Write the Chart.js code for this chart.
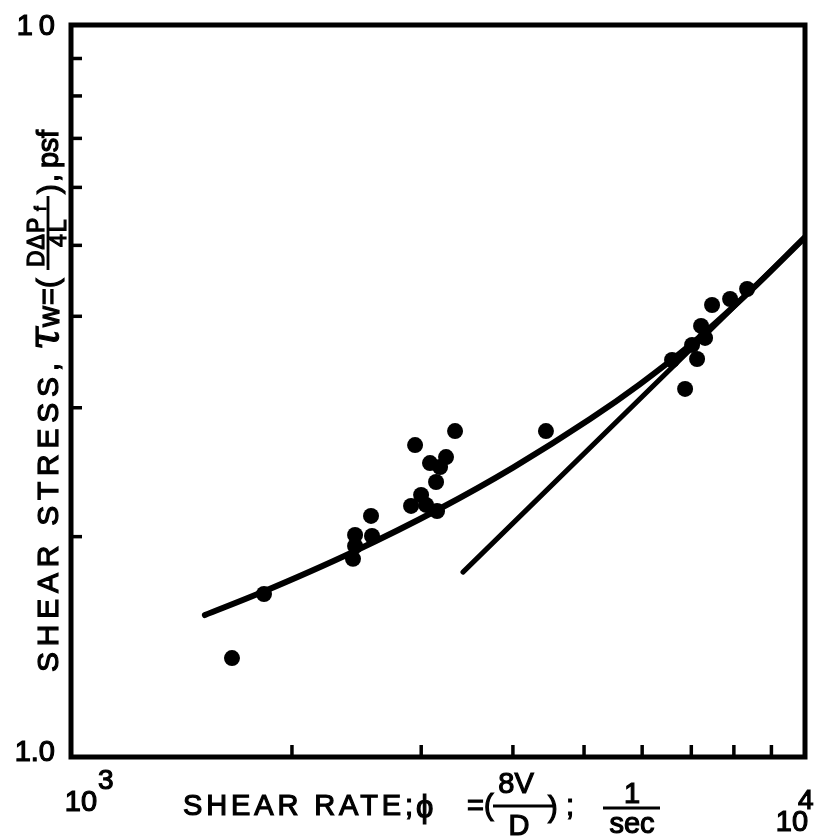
<!DOCTYPE html>
<html>
<head>
<meta charset="utf-8">
<script src="https://cdn.jsdelivr.net/npm/chart.js@4"></script>
<style>
html,body{margin:0;padding:0;background:#fff;}
#wrap{width:822px;height:840px;}
</style>
</head>
<body>
<div id="wrap"><canvas id="c" width="822" height="840"></canvas></div>
<script>
// ---- data ----
const shearRate   = [1657,1832,2422,2438,2438,2571,2563,2906,2999,3046,3153,3143,2943,3084,3183,3243,3336,4437,6590,6865,7128,7017,7309,7218,7471,7906,8339];
const shearStress = [1.365,1.670,1.865,1.942,2.011,2.004,2.135,2.203,2.280,2.210,2.168,2.375,2.668,2.521,2.490,2.569,2.788,2.788,3.486,3.183,3.497,3.655,3.737,3.881,4.145,4.224,4.359];

const curveRate   = [1522,1809,2422,3183,4001,5095,5960,6973,8418,10000];
const curveStress = [1.563,1.675,1.906,2.185,2.485,2.895,3.232,3.654,4.330,5.130];

const lineRate    = [3420,10000];
const lineStress  = [1.789,5.13];

const xMinorTicks = [2000,3000,4000,5000,6000,7000,8000,9000];
const yMinorTicks = [2,3,4,5,6,7,8,9];
const xTickLabels = [{value:1000, base:'10', exp:'3'},{value:10000, base:'10', exp:'4'}];
const yTickLabels = [{value:1, text:'1.0'},{value:10, text:'10'}];

const toXY = (xs, ys) => xs.map((x,i)=>({x:x, y:ys[i]}));

const FONT = '"Liberation Sans","DejaVu Sans",sans-serif';

function txt(ctx, s, x, y){
  ctx.fillText(s, x, y);
  ctx.strokeText(s, x, y);
}
function spread(ctx, text, x0, x1, base){
  ctx.letterSpacing = '0px';
  const w = ctx.measureText(text).width;
  const n = [...text].length;
  const sp = n>1 ? (x1-x0-w)/(n-1) : 0;
  ctx.letterSpacing = sp + 'px';
  ctx.textAlign = 'left';
  txt(ctx, text, x0, base);
  ctx.letterSpacing = '0px';
}

const framePlugin = {
  id:'frame',
  afterDatasetsDraw(chart){
    const ctx = chart.ctx, a = chart.chartArea;
    const xs = chart.scales.x, ys = chart.scales.y;
    ctx.save();
    ctx.strokeStyle = '#000';
    ctx.fillStyle = '#000';
    ctx.lineWidth = 5;
    ctx.lineJoin = 'miter';
    ctx.strokeRect(a.left, a.top, a.right-a.left, a.bottom-a.top);
    // inward minor ticks
    ctx.lineWidth = 3.5;
    xMinorTicks.forEach(v=>{
      const px = xs.getPixelForValue(v);
      ctx.beginPath(); ctx.moveTo(px, a.bottom); ctx.lineTo(px, a.bottom-12); ctx.stroke();
    });
    yMinorTicks.forEach(v=>{
      const py = ys.getPixelForValue(v);
      ctx.beginPath(); ctx.moveTo(a.left, py); ctx.lineTo(a.left+11, py); ctx.stroke();
    });
    // tick labels
    ctx.lineWidth = 1.2;
    ctx.textBaseline = 'middle';
    ctx.textAlign = 'right';
    ctx.font = '29px ' + FONT;
    yTickLabels.forEach(t=>{
      const py = ys.getPixelForValue(t.value);
      ctx.letterSpacing = t.text==='10' ? '6px' : '0px';
      txt(ctx, t.text, a.left-16 + (t.text==='10'?6:0), py + (t.value===10?2:-4));
    });
    ctx.letterSpacing = '0px';
    ctx.textBaseline = 'alphabetic';
    xTickLabels.forEach(t=>{
      const px = xs.getPixelForValue(t.value);
      ctx.font = '29px ' + FONT;
      ctx.textAlign = 'center';
      const base = t.value===1000 ? 811 : 831;
      txt(ctx, t.base, px + (t.value===1000 ? 10 : -13), base);
      ctx.font = '28px ' + FONT;
      ctx.textAlign = 'left';
      txt(ctx, t.exp, px + (t.value===1000 ? 27 : -7), base-22);
    });
    ctx.restore();
  }
};

const titlePlugin = {
  id:'titles',
  afterDraw(chart){
    const ctx = chart.ctx;
    ctx.save();
    ctx.fillStyle = '#000';
    ctx.strokeStyle = '#000';
    ctx.lineWidth = 1.2;
    ctx.textBaseline = 'alphabetic';
    // ---- x title ----
    ctx.font = '29px ' + FONT;
    spread(ctx, 'SHEAR RATE;', 183, 413, 815);
    ctx.textAlign = 'left';
    ctx.font = '31px ' + FONT;
    txt(ctx, 'ϕ', 416, 817);
    ctx.font = '29px ' + FONT;
    txt(ctx, '=(', 467, 815);
    ctx.textAlign = 'center';
    txt(ctx, '8V', 516, 793);
    txt(ctx, 'D', 519, 835);
    ctx.lineWidth = 2.8;
    ctx.beginPath(); ctx.moveTo(493, 806); ctx.lineTo(553, 806); ctx.stroke();
    ctx.lineWidth = 1.2;
    ctx.textAlign = 'left';
    txt(ctx, ')', 548, 817);
    txt(ctx, ';', 566, 815);
    ctx.textAlign = 'center';
    txt(ctx, '1', 632, 803);
    txt(ctx, 'sec', 632, 833);
    ctx.lineWidth = 2.8;
    ctx.beginPath(); ctx.moveTo(603, 808); ctx.lineTo(660, 808); ctx.stroke();
    ctx.lineWidth = 1.2;

    // ---- y title (rotated) ----
    ctx.rotate(-Math.PI/2);
    // rotated coords: u = -screenY, v = screenX
    ctx.font = '30px ' + FONT;
    spread(ctx, 'SHEAR STRESS,', -672, -363, 58);
    ctx.textAlign = 'left';
    ctx.font = 'italic 42px "DejaVu Serif",serif';
    txt(ctx, 'τ', -350, 58);
    ctx.font = '29px ' + FONT;
    txt(ctx, 'w', -327, 59);
    txt(ctx, '=(', -305, 58);
    ctx.font = '23px ' + FONT;
    ctx.textAlign = 'left';
    ctx.letterSpacing = '1px';
    txt(ctx, 'DΔP', -267, 44);
    ctx.letterSpacing = '0px';
    ctx.font = '17px ' + FONT;
    txt(ctx, 'f', -211, 46);
    ctx.font = '23px ' + FONT;
    ctx.letterSpacing = '2px';
    txt(ctx, '4L', -247, 66);
    ctx.letterSpacing = '0px';
    ctx.lineWidth = 2.8;
    ctx.beginPath(); ctx.moveTo(-270, 48); ctx.lineTo(-196, 48); ctx.stroke();
    ctx.lineWidth = 1.2;
    ctx.font = '29px ' + FONT;
    txt(ctx, ')', -194, 59);
    txt(ctx, ',', -182, 58);
    spread(ctx, 'psf', -168, -130, 58);
    ctx.restore();
  }
};

new Chart(document.getElementById('c'), {
  data:{
    datasets:[
      {type:'scatter', data:toXY(shearRate, shearStress), backgroundColor:'#000', borderColor:'#000', pointRadius:8, pointHoverRadius:8, borderWidth:0},
      {type:'line', data:toXY(curveRate, curveStress), borderColor:'#000', borderWidth:6, pointRadius:0, tension:0.4, cubicInterpolationMode:'monotone', borderCapStyle:'round', fill:false},
      {type:'line', data:toXY(lineRate, lineStress), borderColor:'#000', borderWidth:5, pointRadius:0, borderCapStyle:'round', fill:false}
    ]
  },
  options:{
    responsive:false,
    animation:false,
    events:[],
    layout:{padding:{top:25, right:17, left:0, bottom:0}},
    plugins:{legend:{display:false}, tooltip:{enabled:false}, title:{display:false}},
    scales:{
      x:{type:'logarithmic', min:1000, max:10000,
         grid:{display:false}, border:{display:false}, ticks:{display:false},
         afterFit(s){ s.height = 83; }},
      y:{type:'logarithmic', min:1, max:10,
         grid:{display:false}, border:{display:false}, ticks:{display:false},
         afterFit(s){ s.width = 71; }}
    }
  },
  plugins:[framePlugin, titlePlugin]
});
</script>
</body>
</html>
